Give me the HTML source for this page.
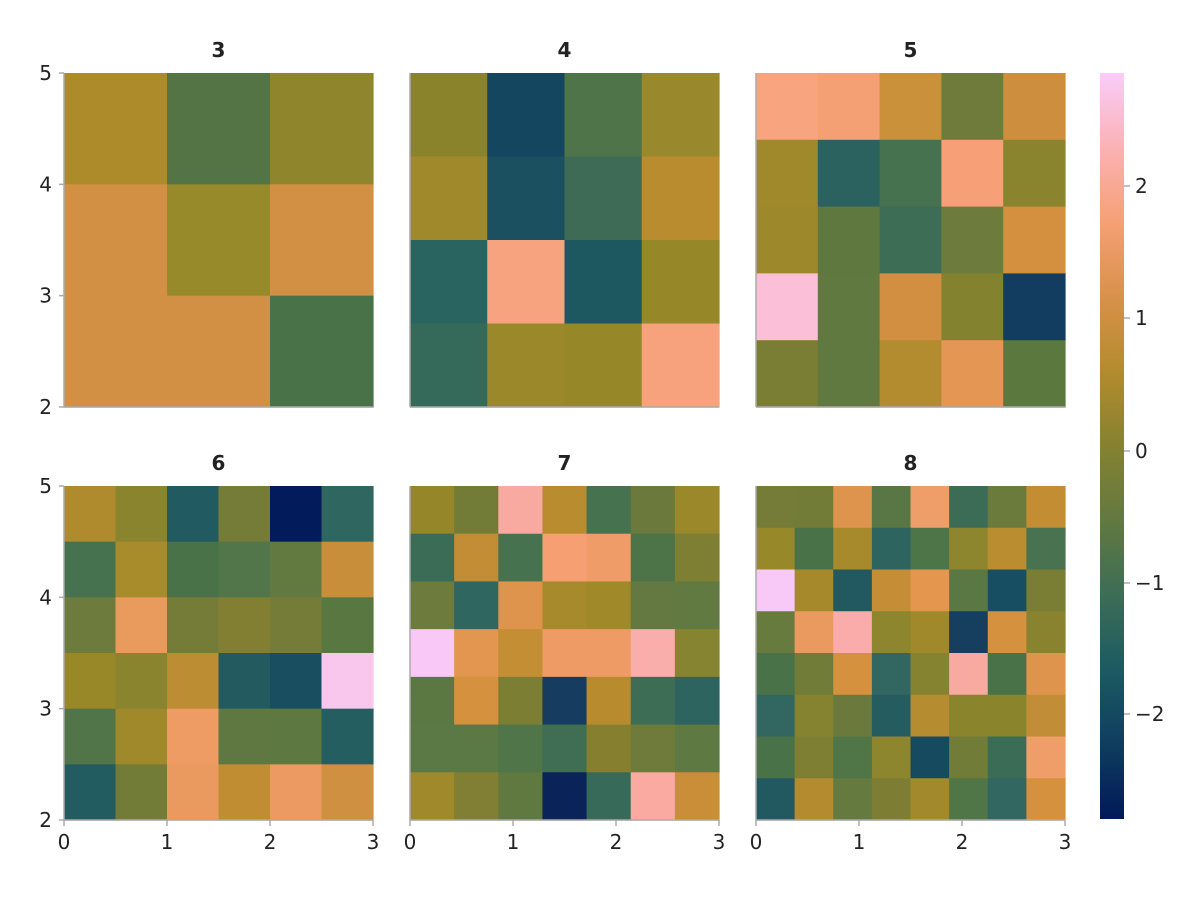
<!DOCTYPE html>
<html><head><meta charset="utf-8"><style>
body{margin:0;background:#fff;}
svg text{font-family:"DejaVu Sans","Liberation Sans",sans-serif;font-size:20px;fill:#222;}
</style></head><body>
<svg id="s" width="1200" height="900" xmlns="http://www.w3.org/2000/svg">
<defs><linearGradient id="g" x1="0" y1="1" x2="0" y2="0">
<stop offset="0" stop-color="#011959"/><stop offset="0.1" stop-color="#0f3d5f"/>
<stop offset="0.2" stop-color="#1c5a62"/><stop offset="0.3" stop-color="#3c6d56"/>
<stop offset="0.4" stop-color="#627941"/><stop offset="0.5" stop-color="#858230"/>
<stop offset="0.6" stop-color="#b48b2e"/><stop offset="0.7" stop-color="#d8914a"/>
<stop offset="0.8" stop-color="#f5a075"/><stop offset="0.9" stop-color="#fbb2b4"/>
<stop offset="1" stop-color="#faccfa"/></linearGradient></defs>
</svg>
<script>
var P=[
["3",64,73,[["#ad8b2b","#557446","#8f852d"],["#d19044","#978a2a","#d19044"],["#d19044","#d19044","#4a7249"]]],
["4",410,73,[["#8b832c","#144660","#4f7449","#9a882c"],["#a0892b","#1a5060","#3e6b55","#b98c30"],["#2a6460","#f8a37f","#1d5860","#968829"],["#356a5a","#9b882b","#968829","#f8a17d"]]],
["5",756,73,[["#f8a47e","#f5a074","#cb903a","#6f7b3b","#cd8f3d"],["#a0892b","#2b6260","#467250","#f7a077","#8a842e"],["#9d892b","#5e7840","#3d6d55","#6d7b3c","#d4903f"],["#fbbfd7","#5f7940","#d28f42","#83822f","#123d61"],["#7a7e34","#5f7940","#b28c2f","#e49654","#5b783f"]]],
["6",64,486,[["#b08b2d","#8a842f","#215a60","#757c37","#021b5b","#2f6660"],["#467250","#a88b2b","#4a7249","#527549","#627940","#c98e3a"],["#6d7b3c","#e99a5d","#747c38","#827f33","#757c37","#587741"],["#988828","#8a842e","#bc8d32","#225a60","#194e61","#f9c6ee"],["#517548","#a0892b","#ee9b64","#5f7841","#5d7941","#255e60"],["#225c60","#727c37","#ea9a5e","#c08d33","#ec9a62","#d09042"]]],
["7",410,486,[["#948629","#737c37","#f9aaa0","#b98c30","#467250","#6b7a3c","#9b882b"],["#3b6c56","#c28d34","#467250","#f59f72","#ef9c68","#4d7348","#7f7f33"],["#6d7b3c","#2f6660","#de944d","#a78a2b","#a08928","#637941","#617a42"],["#f9c8f6","#e2964f","#c48e34","#ee9b65","#ee9b65","#faaeab","#868430"],["#5b7843","#d6913f","#7c7e34","#163d5f","#b98b2f","#3e6d56","#2e6460"],["#5a7944","#5a7944","#4f7549","#3f6e55","#867f30","#6e7b3b","#5e7941"],["#a0892b","#807f33","#5f7941","#0a2459","#376a58","#faaaa1","#ca8e39"]]],
["8",756,486,[["#757c37","#727c37","#de944c","#587744","#f09e69","#3d6c56","#6a7b3c","#c38d33"],["#978829","#4a7249","#a78a2b","#2e6460","#4e7548","#8e852f","#bb8d31","#497250"],["#f8c8f6","#a5892b","#225960","#c58d35","#e4964f","#5a7844","#184e62","#7a7e34"],["#687b3e","#eb9a5f","#f9acaa","#8e852f","#9f892b","#163e5f","#d6913f","#898330"],["#4a7249","#717c38","#d6913f","#326660","#85832f","#f9aaa0","#4a7249","#de944c"],["#326660","#858230","#6b7a3c","#245c60","#b58c2f","#8a842d","#8a842d","#c18d36"],["#4a7249","#7e7f33","#507547","#8e852f","#164b5f","#717c38","#3b6c56","#f09e69"],["#225960","#b48b2e","#657a3e","#7d7e34","#a2892b","#507547","#326660","#d6913f"]]]];
var W=309,H=334,h='';
P.forEach(function(p,i){var x0=p[1],y0=p[2],g=p[3],n=g.length,cw=W/n,ch=H/n;
for(var r=0;r<n;r++)for(var c=0;c<n;c++)h+='<rect x="'+(x0+c*cw)+'" y="'+(y0+r*ch)+'" width="'+(cw+0.6)+'" height="'+(ch+0.6)+'" fill="'+g[r][c]+'"/>';
h+='<text x="'+(x0+W/2)+'" y="'+(y0-16)+'" text-anchor="middle" style="font-weight:bold">'+p[0]+'</text>';
h+='<line x1="'+x0+'" y1="'+y0+'" x2="'+x0+'" y2="'+(y0+H)+'" stroke="#aaa" stroke-width="1.5"/>';
h+='<line x1="'+x0+'" y1="'+(y0+H)+'" x2="'+(x0+W)+'" y2="'+(y0+H)+'" stroke="#aaa" stroke-width="1.5"/>';
if(i%3==0)for(var k=0;k<4;k++){var y=y0+H-k*H/3;h+='<line x1="'+(x0-5)+'" y1="'+y+'" x2="'+x0+'" y2="'+y+'" stroke="#aaa" stroke-width="1.5"/><text x="'+(x0-12)+'" y="'+(y+7)+'" text-anchor="end">'+(k+2)+'</text>';}
if(i>=3)for(var k=0;k<4;k++){var x=x0+k*W/3;h+='<line x1="'+x+'" y1="'+(y0+H)+'" x2="'+x+'" y2="'+(y0+H+6)+'" stroke="#aaa" stroke-width="1.5"/><text x="'+x+'" y="'+(y0+H+29)+'" text-anchor="middle">'+k+'</text>';}
});
h+='<rect x="1100" y="73" width="24" height="746" fill="url(#g)"/>';
var lab=["2","1","0","\u22121","\u22122"],ys=[186,318,451,583,714];
for(var k=0;k<5;k++)h+='<line x1="1124" y1="'+ys[k]+'" x2="1130" y2="'+ys[k]+'" stroke="#aaa" stroke-width="1.5"/><text x="1135" y="'+(ys[k]+7)+'">'+lab[k]+'</text>';
document.getElementById('s').insertAdjacentHTML('beforeend',h);
</script>
</body></html>
